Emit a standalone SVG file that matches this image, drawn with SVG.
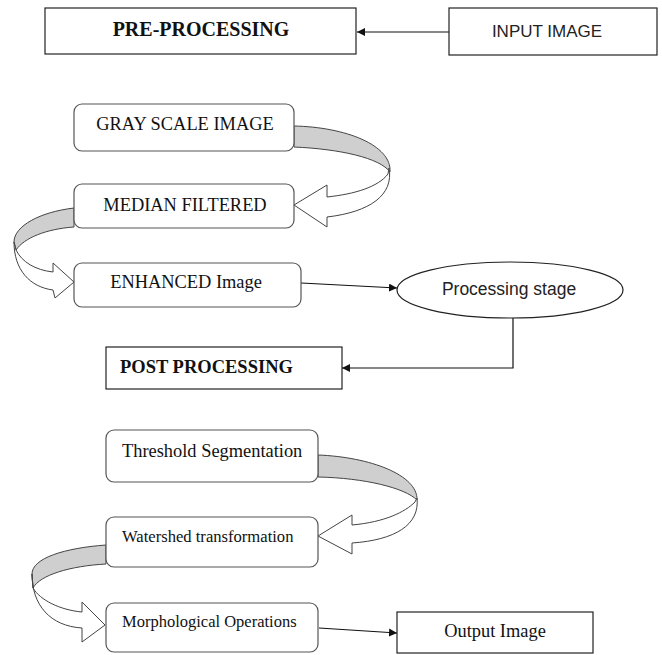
<svg xmlns="http://www.w3.org/2000/svg" width="662" height="655" viewBox="0 0 662 655">
<style>
.rect{fill:#fff;stroke:#222;stroke-width:1.2}
.rbox{fill:#fff;stroke:#555;stroke-width:1.2}
.serif{font-family:"Liberation Serif","Times New Roman",serif;fill:#111}
.sans{font-family:"Liberation Sans",Arial,sans-serif;fill:#222}
.bold{font-weight:bold}
.band{fill:#cfcfcf;stroke:#444;stroke-width:1}
.body{fill:#fff;stroke:#444;stroke-width:1}
.conn{fill:none;stroke:#111;stroke-width:1.2}
</style>
<defs>
<marker id="ah" viewBox="0 0 10 10" refX="10" refY="5" markerWidth="8" markerHeight="8" markerUnits="userSpaceOnUse" orient="auto">
<path d="M0,0 L10,5 L0,10 Z" fill="#111"/>
</marker>
</defs>
<rect width="662" height="655" fill="#fff"/>

<g id="curved-arrows">
<g id="curve1">
<path class="band" d="M294,126 C345,127 392,145 390,172 C380,158 340,149 294,147 Z"/>
<path class="body" d="M389,168 C394,195 370,212 327,217 L327,227 L294,205 L327,185 L327,197 C355,194 378,187 388,174 Z"/>
</g>
<g id="curve2">
<path class="band" d="M74,208 C40,212 14,226 14,242 L16,250 C24,238 46,229 74,227 Z"/>
<path class="body" d="M14,242 C14,270 30,287 53,290 L55,298 L74,282 L53,263 L53,272 C35,270 22,262 16,250 Z"/>
</g>
<g id="curve3">
<path class="band" d="M318,455 C370,457 418,475 417,500 C405,488 365,478 318,477 Z"/>
<path class="body" d="M417,498 C420,525 395,540 352,543 L352,554 L318,536 L352,515 L352,525 C385,522 405,512 415,502 Z"/>
</g>
<g id="curve4">
<path class="band" d="M106,545 C65,548 32,558 32,574 L33,588 C40,575 70,566 106,564 Z"/>
<path class="body" d="M32,574 C32,605 50,626 82,628 L82,642 L105,625 L82,602 L82,612 C60,610 40,600 33,588 Z"/>
</g>
</g>

<g id="connectors">
<path class="conn" d="M449,32 L357,32" marker-end="url(#ah)"/>
<path class="conn" d="M301,283 L397,288" marker-end="url(#ah)"/>
<path class="conn" d="M513,318 L513,368 L342,368" marker-end="url(#ah)"/>
<path class="conn" d="M319,628 L397,633" marker-end="url(#ah)"/>
</g>

<g id="pre-processing">
<rect class="rect" x="45" y="8" width="311" height="46"/>
<text class="serif bold" x="201" y="36" font-size="20" text-anchor="middle">PRE-PROCESSING</text>
</g>
<g id="input-image">
<rect class="rect" x="449" y="8" width="208" height="47"/>
<text class="sans" x="547" y="37" font-size="17" text-anchor="middle">INPUT IMAGE</text>
</g>
<g id="gray-scale">
<rect class="rbox" x="74" y="104" width="220" height="47" rx="8"/>
<text class="serif" x="185" y="130" font-size="18.4" text-anchor="middle">GRAY SCALE IMAGE</text>
</g>
<g id="median-filtered">
<rect class="rbox" x="74" y="184" width="220" height="44" rx="8"/>
<text class="serif" x="185" y="211" font-size="18.4" text-anchor="middle">MEDIAN FILTERED</text>
</g>
<g id="enhanced">
<rect class="rbox" x="74" y="263" width="227" height="44" rx="8"/>
<text class="serif" x="186" y="288" font-size="18.4" text-anchor="middle">ENHANCED Image</text>
</g>
<g id="processing-stage">
<ellipse class="rect" cx="510" cy="290" rx="113" ry="28"/>
<text class="sans" x="509" y="295" font-size="17.5" text-anchor="middle">Processing stage</text>
</g>
<g id="post-processing">
<rect class="rect" x="106" y="347" width="236" height="42"/>
<text class="serif bold" x="120" y="373" font-size="18.5">POST PROCESSING</text>
</g>
<g id="threshold">
<rect class="rbox" x="106" y="430" width="212" height="52" rx="8"/>
<text class="serif" x="122" y="457" font-size="18.4">Threshold Segmentation</text>
</g>
<g id="watershed">
<rect class="rbox" x="106" y="517" width="212" height="50" rx="8"/>
<text class="serif" x="122" y="542" font-size="16.6">Watershed transformation</text>
</g>
<g id="morphological">
<rect class="rbox" x="106" y="603" width="212" height="49" rx="8"/>
<text class="serif" x="122" y="627" font-size="16.5">Morphological Operations</text>
</g>
<g id="output-image">
<rect class="rect" x="397" y="612" width="196" height="41"/>
<text class="serif" x="495" y="637" font-size="18.4" text-anchor="middle">Output Image</text>
</g>
</svg>
